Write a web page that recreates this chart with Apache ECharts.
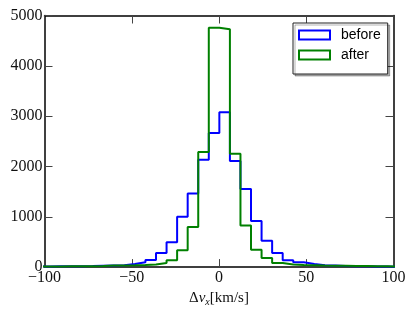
<!DOCTYPE html>
<html><head><meta charset="utf-8">
<script src="https://cdn.jsdelivr.net/npm/echarts@6/dist/echarts.min.js"></script>
<style>html,body{margin:0;padding:0;background:#fff}#c{width:415px;height:312px}</style>
</head><body><div id="c"></div>
<script>
// histogram bin edges (km/s)
const binEdges = [-102.65, -96.6, -90.55, -84.5, -78.45, -72.4, -66.35, -60.3, -54.25, -48.2,
  -42.15, -36.1, -30.05, -24.0, -17.95, -11.9, -5.85, 0.2, 6.25, 12.3,
  18.35, 24.4, 30.45, 36.5, 42.55, 48.6, 54.65, 60.7, 66.75, 72.8,
  78.85, 84.9, 90.95, 97.0, 103.05];
// counts per bin
const beforeCounts = [10, 15, 15, 18, 20, 25, 30, 35, 60, 95,
  140, 280, 495, 1002, 1464, 2133, 2663, 3079, 2107, 1551,
  917, 526, 282, 135, 95, 63, 35, 30, 22, 18,
  15, 12, 10, 8];
const afterCounts = [12, 14, 15, 16, 18, 20, 30, 33, 36, 42,
  50, 83, 135, 335, 795, 2286, 4758, 4726, 2252, 829,
  345, 182, 83, 50, 40, 35, 30, 28, 25, 22,
  20, 18, 15, 12];
const seriesNames = ['before', 'after'];
const xTicks = [-100, -50, 0, 50, 100];
const yTicks = [0, 1000, 2000, 3000, 4000, 5000];

function stepData(edges, counts) {
  const d = [];
  for (let i = 0; i < counts.length; i++) d.push([edges[i], counts[i]]);
  d.push([edges[counts.length], counts[counts.length - 1]]);
  return d;
}
const serif = 'Liberation Serif';
const sans = 'Liberation Sans';
const tick = { show: true, inside: true, length: 8, lineStyle: { color: '#444', width: 1 } };
const frame = { show: true, onZero: false, lineStyle: { color: '#000', width: 1.5 } };
const fmtNum = v => String(v).replace('-', '\u2212');

const chart = echarts.init(document.getElementById('c'), null, { renderer: 'canvas' });
chart.setOption({
  animation: false,
  backgroundColor: '#fff',
  grid: { left: 44.5, right: 21.5, top: 15.5, bottom: 44.5, containLabel: false },
  xAxis: [{
    type: 'value', position: 'bottom', min: xTicks[0], max: xTicks[xTicks.length - 1],
    interval: xTicks[1] - xTicks[0],
    axisLine: frame, axisTick: tick, splitLine: { show: false },
    axisLabel: { fontFamily: serif, fontSize: 16, color: '#111', margin: 3, formatter: fmtNum },
    name: '{d|Δ}{v|v}{s|x}{u|[km/s]}', nameLocation: 'middle', nameGap: 19,
    nameTextStyle: {
      color: '#111',
      rich: {
        d: { fontFamily: serif, fontSize: 15, color: '#111' },
        v: { fontFamily: serif, fontSize: 15, fontStyle: 'italic', color: '#111' },
        s: { fontFamily: serif, fontSize: 10, fontStyle: 'italic', color: '#111', padding: [7, 0, 0, 0] },
        u: { fontFamily: serif, fontSize: 15, color: '#111' }
      }
    }
  }, {
    type: 'value', position: 'top', min: xTicks[0], max: xTicks[xTicks.length - 1],
    interval: xTicks[1] - xTicks[0],
    axisLine: frame, axisTick: tick, axisLabel: { show: false }, splitLine: { show: false }
  }],
  yAxis: [{
    type: 'value', position: 'left', min: yTicks[0], max: yTicks[yTicks.length - 1],
    interval: yTicks[1] - yTicks[0],
    axisLine: frame, axisTick: tick, splitLine: { show: false },
    axisLabel: { fontFamily: serif, fontSize: 16, color: '#111', margin: 2, formatter: fmtNum }
  }, {
    type: 'value', position: 'right', min: yTicks[0], max: yTicks[yTicks.length - 1],
    interval: yTicks[1] - yTicks[0],
    axisLine: frame, axisTick: tick, axisLabel: { show: false }, splitLine: { show: false }
  }],
  legend: {
    orient: 'vertical', left: 293, top: 23,
    itemWidth: 31, itemHeight: 9, itemGap: 4,
    padding: [4, 7, 11, 5],
    backgroundColor: '#fff', borderColor: '#222', borderWidth: 1, borderRadius: 0,
    shadowColor: 'rgba(0,0,0,0.3)', shadowOffsetX: 2, shadowOffsetY: 2, shadowBlur: 0,
    textStyle: { fontFamily: sans, fontSize: 14, lineHeight: 16, color: '#000', padding: [0, 0, 0, 6] },
    data: [
      { name: seriesNames[0], icon: 'rect', itemStyle: { color: 'rgba(0,0,0,0)', borderColor: '#0000ff', borderWidth: 2 } },
      { name: seriesNames[1], icon: 'rect', itemStyle: { color: 'rgba(0,0,0,0)', borderColor: '#008000', borderWidth: 2 } }
    ]
  },
  series: [{
    name: seriesNames[0], type: 'line', step: 'end', showSymbol: false, symbol: 'none',
    data: stepData(binEdges, beforeCounts),
    lineStyle: { color: '#0000ff', width: 2 }, itemStyle: { color: '#0000ff' }, z: 2
  }, {
    name: seriesNames[1], type: 'line', step: 'end', showSymbol: false, symbol: 'none',
    data: stepData(binEdges, afterCounts),
    lineStyle: { color: '#008000', width: 2 }, itemStyle: { color: '#008000' }, z: 3
  }]
});
</script>
</body></html>
